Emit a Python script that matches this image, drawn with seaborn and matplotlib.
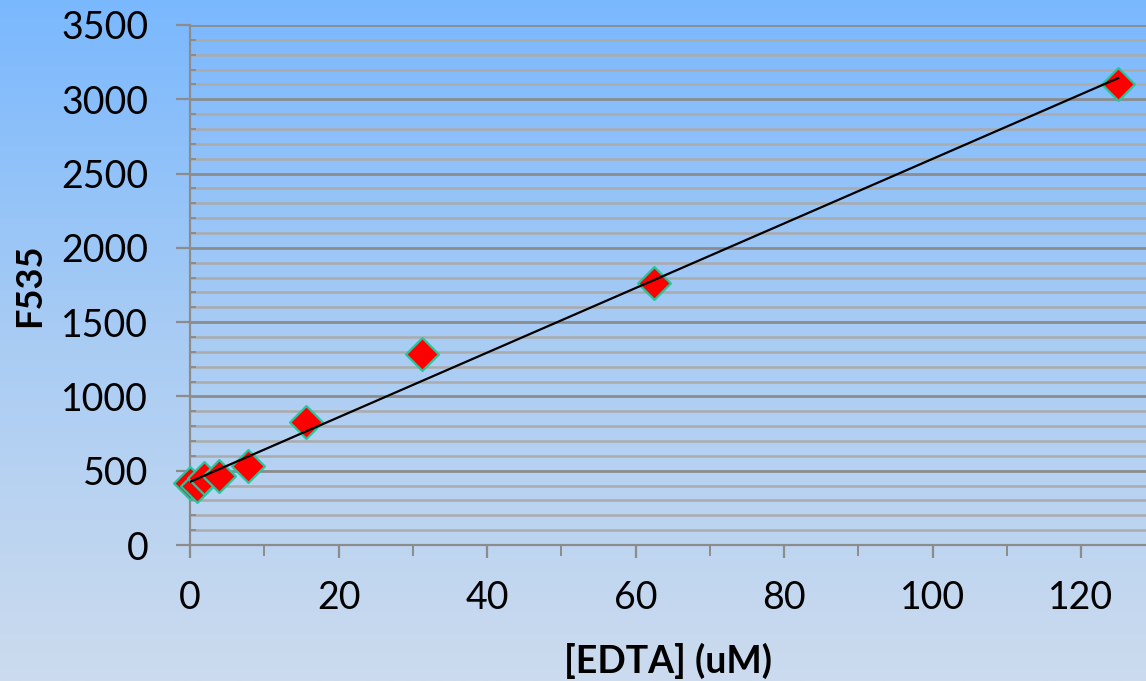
import numpy as np
import seaborn as sns
import matplotlib.pyplot as plt
from matplotlib.colors import LinearSegmentedColormap
from matplotlib.ticker import MultipleLocator

# donnees
edta = [0, 0.98, 1.95, 3.9, 7.8, 15.6, 31.25, 62.5, 125]
f535 = [415, 400, 450, 462, 530, 825, 1285, 1765, 3105]
x_ticks = [0, 20, 40, 60, 80, 100, 120]
y_ticks = [0, 500, 1000, 1500, 2000, 2500, 3000, 3500]

plt.rcParams['font.family'] = ['Lato', 'DejaVu Sans']

fig = plt.figure(figsize=(11.46, 6.81), dpi=100)

# fond en degrade bleu
ax_bg = fig.add_axes([0, 0, 1, 1], zorder=-1)
grad = np.linspace(0, 1, 256).reshape(-1, 1)
cmap_bg = LinearSegmentedColormap.from_list('bg', ['#7AB8FE', '#A9CCF4', '#CCDBEE'])
ax_bg.imshow(grad, aspect='auto', cmap=cmap_bg, extent=[0, 1, 0, 1])
ax_bg.axis('off')

ax = fig.add_axes([0.1658, 0.1997, 0.8342, 0.7636])
ax.set_facecolor('none')

sns.scatterplot(x=edta, y=f535, marker='D', s=280, color='#FF0000',
                edgecolor='#20C8A0', linewidth=1.6, ax=ax, zorder=3,
                legend=False, clip_on=False)
# droite de regression lineaire
sns.regplot(x=edta, y=f535, scatter=False, ci=None, truncate=True, ax=ax,
            line_kws=dict(color='black', lw=1.6, zorder=4))

ax.set_xlim(0, 128.75)
ax.set_ylim(0, 3500)
ax.set_xticks(x_ticks)
ax.set_yticks(y_ticks)
ax.xaxis.set_minor_locator(MultipleLocator(10))
ax.yaxis.set_minor_locator(MultipleLocator(100))

ax.yaxis.grid(True, which='major', color='#8C8C8C', lw=2, zorder=0)
ax.yaxis.grid(True, which='minor', color='#ABABAB', lw=1.8, zorder=0)
ax.xaxis.grid(False, which='both')
ax.set_axisbelow(True)

for s in ['top', 'right']:
    ax.spines[s].set_visible(False)
for s in ['left', 'bottom']:
    ax.spines[s].set_color('#8C8C8C')
    ax.spines[s].set_linewidth(1.6)

ax.tick_params(axis='y', which='major', direction='out', length=10, width=1.6,
               color='#8C8C8C', labelsize=27, pad=20, labelcolor='black')
ax.tick_params(axis='y', which='minor', direction='in', length=4, width=1.4, color='#8C8C8C')
ax.tick_params(axis='x', which='major', direction='out', length=9, width=1.6,
               color='#8C8C8C', labelsize=27, pad=16, labelcolor='black')
ax.tick_params(axis='x', which='minor', direction='out', length=8, width=1.4, color='#8C8C8C')

ax.set_xlabel('[EDTA] (uM)', fontsize=27, fontweight='bold', va='center')
ax.xaxis.set_label_coords(0.5, -0.223)
ax.set_ylabel('F535', fontsize=26, fontweight='bold', va='center')
ax.yaxis.set_label_coords(-0.1674, 0.5)

plt.savefig('out.png', dpi=100)
